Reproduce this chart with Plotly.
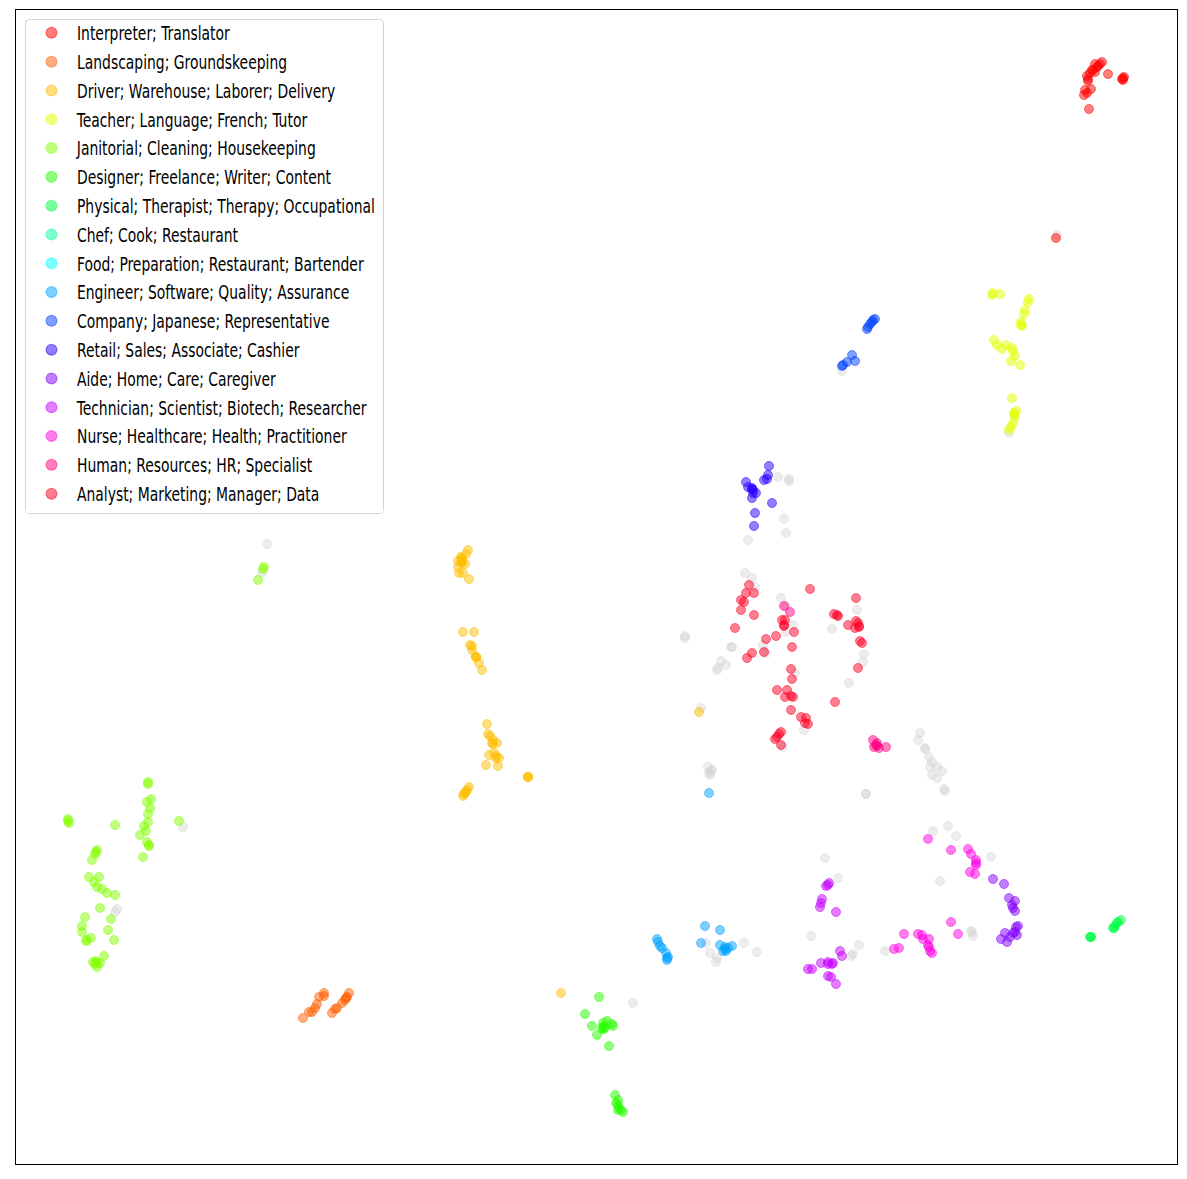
import plotly.graph_objects as go

labels = ["Interpreter; Translator", "Landscaping; Groundskeeping", "Driver; Warehouse; Laborer; Delivery",
          "Teacher; Language; French; Tutor", "Janitorial; Cleaning; Housekeeping", "Designer; Freelance; Writer; Content",
          "Physical; Therapist; Therapy; Occupational", "Chef; Cook; Restaurant", "Food; Preparation; Restaurant; Bartender",
          "Engineer; Software; Quality; Assurance", "Company; Japanese; Representative", "Retail; Sales; Associate; Cashier",
          "Aide; Home; Care; Caregiver", "Technician; Scientist; Biotech; Researcher", "Nurse; Healthcare; Health; Practitioner",
          "Human; Resources; HR; Specialist", "Analyst; Marketing; Manager; Data"]
colors = [(255,0,0),(255,94,0),(255,189,0),(227,255,0),(132,255,0),(38,255,0),(0,255,66),(0,255,161),(0,255,255),
          (0,161,255),(0,66,255),(38,0,255),(132,0,255),(198,0,255),(255,0,227),(255,0,132),(255,0,38)]

grey_pts = [(778,477),(789,479),(789,481),(784,519),(786,533),(748,540),(745,573),(752,578),(755,587),(781,598),(786,606),
 (857,610),(793,625),(832,629),(786,632),(685,636),(685,638),(731,647),(732,647),(763,645),(766,653),(721,661),(726,665),
 (718,668),(717,670),(864,654),(863,662),(795,673),(849,683),(701,708),(804,730),(783,747),(708,767),(712,770),(711,771),
 (710,775),(709,773),(920,733),(918,740),(925,748),(925,749),(929,757),(932,762),(930,767),(937,767),(942,771),(932,775),
 (937,778),(944,789),(945,791),(866,794),(866,794),(933,831),(948,826),(956,836),(991,857),(825,858),(838,878),(940,881),
 (811,936),(859,945),(853,954),(851,956),(885,951),(971,931),(972,932),(973,936),(117,909),(115,912),(183,827),(267,544),
 (262,573),(706,943),(710,953),(717,958),(716,962),(744,943),(757,952),(633,1003),(842,371),(1009,433),(1057,235)]

interpreter = [(1102,62),(1100,64),(1097,67),(1095,64),(1093,70),(1092,70),(1090,73),(1087,76),(1088,79),(1088,81),(1108,74),
 (1122,79),(1123,78),(1124,77),(1123,80),(1085,90),(1091,89),(1087,93),(1084,95),(1089,109),(1098,66),(1095,72),(1056,238)]
landscaping = [(303,1018),(309,1012),(312,1012),(315,1008),(317,1004),(319,997),(324,993),(324,996),(332,1013),(335,1009),
 (337,1008),(342,1003),(345,1000),(347,997),(349,993),(346,998)]
driver = [(468,550),(466,554),(461,557),(462,560),(458,561),(465,564),(462,563),(458,567),(459,573),(463,573),(469,579),(462,558),
 (461,562),(463,632),(474,632),(470,645),(472,646),(472,650),(476,657),(476,657),(476,657),(479,663),(482,670),(487,724),(488,734),
 (490,736),(493,740),(492,743),(497,743),(493,744),(489,755),(494,753),(496,756),(499,758),(496,758),(486,765),(498,766),(528,777),
 (528,777),(528,777),(469,787),(467,790),(466,792),(464,794),(463,796),(465,793),(699,712),(561,993)]
teacher = [(992,295),(993,293),(1000,294),(1029,299),(1028,302),(1025,310),(1024,314),(1021,322),(1022,326),(1021,325),(994,340),
 (997,345),(1002,349),(1006,345),(1012,348),(1013,351),(1015,356),(1011,361),(1020,365),(1012,398),(1016,411),(1014,414),(1015,417),
 (1013,423),(1011,427),(1009,430),(1014,413)]
janitorial = [(263,569),(258,580),(264,567),(148,782),(148,784),(151,799),(147,802),(150,808),(148,814),(148,822),(144,826),(146,831),
 (140,835),(147,842),(149,845),(149,846),(143,857),(68,819),(68,821),(69,823),(115,825),(179,821),(97,850),(96,852),(95,854),(92,860),
 (89,877),(99,877),(94,882),(97,887),(102,889),(107,893),(115,895),(100,908),(111,919),(85,917),(82,926),(82,932),(108,930),(114,940),
 (91,938),(87,940),(86,941),(104,956),(96,961),(97,963),(95,964),(100,963),(97,967),(93,962)]
designer = [(599,997),(585,1014),(592,1026),(597,1035),(609,1046),(607,1021),(603,1023),(612,1024),(613,1026),(605,1027),(604,1029),
 (602,1029),(603,1027),(615,1095),(618,1100),(616,1103),(618,1105),(619,1108),(621,1110),(623,1112),(618,1110)]
physical = [(1091,937),(1091,937),(1090,937),(1113,928),(1115,926),(1118,922),(1121,920),(1114,928),(1117,923)]
chef = []
food = []
engineer = [(657,939),(658,942),(660,946),(662,948),(666,953),(668,957),(667,960),(667,958),(705,926),(720,930),(701,943),(720,945),
 (732,946),(725,947),(723,951),(726,951),(728,948),(725,949),(709,793)]
company = [(875,319),(873,320),(872,322),(870,324),(868,327),(867,329),(852,355),(855,361),(847,362),(843,365),(842,366)]
retail = [(769,466),(768,475),(767,479),(764,480),(746,482),(748,487),(752,488),(753,490),(756,493),(753,493),(752,498),(772,503),
 (755,513),(754,526),(752,489)]
aide = [(993,879),(1004,884),(1009,898),(1015,901),(1012,905),(1013,908),(1015,911),(1018,926),(1016,927),(1015,932),(1017,935),
 (1005,933),(1010,937),(1001,939),(1007,942),(1013,933)]
technician = [(829,883),(828,885),(826,886),(822,899),(821,903),(820,907),(836,912),(840,951),(842,956),(821,963),(828,962),(828,964),
 (832,964),(833,963),(808,969),(812,969),(828,976),(831,977),(836,984)]
nurse = [(928,839),(951,850),(968,849),(971,854),(976,860),(976,863),(976,865),(970,872),(975,874),(951,922),(958,934),(904,934),
 (918,934),(922,935),(923,939),(929,939),(899,948),(894,949),(928,945),(929,947),(930,951),(932,953)]
human = [(784,606),(790,612),(873,740),(877,743),(877,746),(874,747),(879,748),(886,747),(876,745)]
analyst = [(810,589),(749,585),(746,593),(754,593),(741,600),(744,602),(741,610),(754,615),(735,628),(782,620),(785,620),(784,626),
 (784,625),(794,632),(776,636),(766,639),(792,647),(752,653),(764,652),(747,658),(791,669),(792,679),(777,690),(787,690),(785,697),
 (791,696),(793,697),(791,710),(801,717),(806,718),(805,723),(808,724),(835,702),(856,598),(834,614),(837,615),(838,616),(848,625),
 (855,628),(856,621),(858,623),(859,626),(859,627),(860,641),(862,643),(858,668),(781,732),(779,734),(775,739),(777,737),(781,745)]

series = [interpreter, landscaping, driver, teacher, janitorial, designer, physical, chef, food, engineer, company, retail, aide,
          technician, nurse, human, analyst]

def rgba(c, a):
    return f"rgba({c[0]},{c[1]},{c[2]},{a})"

fig = go.Figure()
fig.add_trace(go.Scatter(x=[p[0] for p in grey_pts], y=[p[1] for p in grey_pts], mode="markers", showlegend=False,
    marker=dict(size=9, color="rgba(211,211,211,0.4)", line=dict(width=1, color="rgba(211,211,211,0.4)"))))
for name, col, pts in zip(labels, colors, series):
    fig.add_trace(go.Scatter(
        x=[p[0] for p in pts] or [None], y=[p[1] for p in pts] or [None], mode="markers", name=name, legendgroup=name,
        marker=dict(size=9, color=rgba(col, 0.5), line=dict(width=1, color=rgba(col, 0.5)))))

fig.update_layout(
    width=1187, height=1179, margin=dict(l=16, r=10, t=10, b=15),
    plot_bgcolor="white", paper_bgcolor="white",
    xaxis=dict(range=[16, 1177], showticklabels=False, ticks="", showgrid=False, zeroline=False, mirror=True,
               showline=True, linecolor="black", linewidth=1),
    yaxis=dict(range=[1164, 10], showticklabels=False, ticks="", showgrid=False, zeroline=False, mirror=True,
               showline=True, linecolor="black", linewidth=1),
    legend=dict(x=9/1161, y=1-9/1154, xanchor="left", yanchor="top", bgcolor="rgba(255,255,255,0.8)", bordercolor="#d4d4d4",
                borderwidth=1, tracegroupgap=1.1, itemsizing="trace", itemwidth=41,
                entrywidthmode="pixels", entrywidth=234,
                font=dict(family="DejaVu Sans Condensed, DejaVu Sans", size=19, color="black")),
)
squeeze = """
document.body.style.margin='0';
document.querySelectorAll('text.legendtext').forEach(function(t){
  t.style.transformBox='fill-box';
  t.style.transformOrigin='left center';
  t.style.transform='scaleX(0.814)';
});
document.querySelectorAll('.legend rect.bg').forEach(function(r){
  r.setAttribute('width', '358');
  r.setAttribute('height', '494');
  r.setAttribute('rx', '4');
  r.setAttribute('ry', '4');
});
document.querySelectorAll('.legend .scrollbox').forEach(function(g){
  g.setAttribute('transform', 'translate(0,-6)');
  g.removeAttribute('clip-path');
});
document.querySelectorAll('.legend .legendpoints path').forEach(function(p){
  p.setAttribute('transform', (p.getAttribute('transform') || '') + ' scale(1.2)');
});
"""
fig.write_html("out.html", post_script=squeeze, config={"displayModeBar": False})
